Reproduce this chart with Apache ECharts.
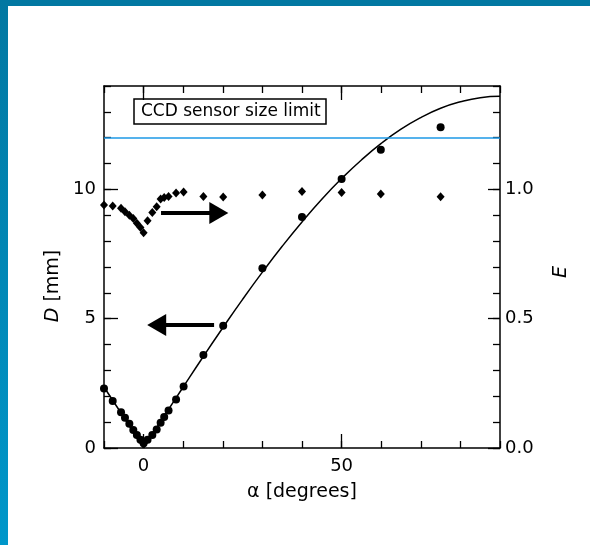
<!DOCTYPE html>
<html>
<head>
<meta charset="utf-8">
<script src="https://cdn.jsdelivr.net/npm/echarts@6/dist/echarts.min.js"></script>
<style>
  html, body { margin: 0; padding: 0; background: #ffffff; }
  #chart { width: 590px; height: 545px; }
</style>
</head>
<body>
<div id="chart"></div>
<script>
// Measured points: incidence angle, spot diameter D and efficiency E
const alphaDeg   = [-10, -7.8, -5.7, -4.7, -3.6, -2.6, -1.7, -0.8, 0, 1, 2.2, 3.3, 4.3, 5.2, 6.3, 8.2, 10.1, 15.1, 20.1, 30, 40, 50, 59.9, 75];
const diameterMm = [2.3, 1.82, 1.38, 1.17, 0.94, 0.7, 0.5, 0.32, 0.18, 0.32, 0.5, 0.72, 0.98, 1.2, 1.45, 1.88, 2.38, 3.6, 4.73, 6.95, 8.93, 10.4, 11.53, 12.4];
const efficiency = [0.94, 0.936, 0.927, 0.914, 0.90, 0.888, 0.869, 0.853, 0.832, 0.879, 0.911, 0.933, 0.963, 0.969, 0.973, 0.986, 0.99, 0.973, 0.971, 0.978, 0.992, 0.988, 0.982, 0.972];

// Model curve for D
const fitAlpha = [-10, -5, 0, 5, 10, 15, 20, 25, 30, 35, 40, 45, 50, 55, 60, 65, 70, 75, 80, 85, 90];
const fitD     = [2.36, 1.19, 0, 1.19, 2.36, 3.52, 4.65, 5.75, 6.8, 7.8, 8.74, 9.62, 10.42, 11.14, 11.78, 12.33, 12.78, 13.14, 13.39, 13.55, 13.6];

// Sensor limit and labelled ticks
const sensorLimitMm = 12;
const xTickLabels = [0, 50];
const dTickLabels = [0, 5, 10];
const eTickLabels = [0, 0.5, 1.0];

const FONT = 'DejaVu Sans';
const pairs = (xs, ys) => xs.map((x, i) => [x, ys[i]]);
const fitPts = pairs(fitAlpha, fitD);

const axisLine = { show: true, onZero: false, lineStyle: { color: '#000', width: 1.5 } };
const noLine = { show: false, onZero: false };
const minorTick = { show: true, inside: true, length: 7, lineStyle: { color: '#000', width: 1.3 } };
const majorTick = (vals, len) => ({ show: true, inside: true, length: len, customValues: vals, lineStyle: { color: '#000', width: 1.3 } });
const labelStyle = { color: '#000', fontFamily: FONT, fontSize: 18 };

const xBase = { type: 'value', min: -10, max: 90, interval: 10, splitLine: { show: false } };
const dBase = { type: 'value', min: 0, max: 14, interval: 1, splitLine: { show: false } };
const eBase = { type: 'value', min: 0, max: 1.4, interval: 0.1, splitLine: { show: false } };

const chart = echarts.init(document.getElementById('chart'), null, { renderer: 'canvas' });
chart.setOption({
  animation: false,
  backgroundColor: '#ffffff',
  graphic: [
    { type: 'rect', left: 0, top: 0, shape: { width: 590, height: 6 }, style: { fill: '#0278a2' }, silent: true },
    { type: 'rect', left: 0, top: 0, shape: { width: 8, height: 545 },
      style: { fill: new echarts.graphic.LinearGradient(0, 0, 0, 1, [
        { offset: 0, color: '#0278a2' }, { offset: 1, color: '#0097ca' }]) }, silent: true }
  ],
  title: {
    text: 'CCD sensor size limit',
    left: 134, top: 99,
    padding: [3, 6, 3, 7],
    borderColor: '#000', borderWidth: 1.5,
    textStyle: { fontFamily: FONT, fontSize: 17, fontWeight: 'normal', color: '#000', lineHeight: 19 }
  },
  grid: { left: 104, top: 86, width: 396, height: 362 },
  xAxis: [
    Object.assign({}, xBase, {
      position: 'bottom', axisLine: axisLine, axisTick: minorTick,
      axisLabel: Object.assign({ customValues: xTickLabels, margin: 9 }, labelStyle),
      name: 'α [degrees]', nameLocation: 'middle', nameGap: 35,
      nameTextStyle: { fontFamily: FONT, fontSize: 19, color: '#000' }
    }),
    Object.assign({}, xBase, { position: 'bottom', axisLine: noLine, axisTick: majorTick(xTickLabels, 14), axisLabel: { show: false } }),
    Object.assign({}, xBase, { position: 'top', axisLine: axisLine, axisTick: minorTick, axisLabel: { show: false } }),
    Object.assign({}, xBase, { position: 'top', axisLine: noLine, axisTick: majorTick(xTickLabels, 14), axisLabel: { show: false } })
  ],
  yAxis: [
    Object.assign({}, dBase, {
      position: 'left', axisLine: axisLine, axisTick: minorTick,
      axisLabel: Object.assign({ customValues: dTickLabels, margin: 8 }, labelStyle),
      name: '{i|D} [mm]', nameLocation: 'middle', nameGap: 40, nameRotate: 90,
      nameTextStyle: {
        fontFamily: FONT, fontSize: 19, color: '#000', padding: [0, 38, 0, 0],
        rich: { i: { fontFamily: FONT, fontSize: 19, fontStyle: 'italic', color: '#000' } }
      }
    }),
    Object.assign({}, dBase, { position: 'left', axisLine: noLine, axisTick: majorTick(dTickLabels, 14), axisLabel: { show: false } }),
    Object.assign({}, eBase, {
      position: 'right', axisLine: axisLine, axisTick: minorTick,
      axisLabel: Object.assign({ customValues: eTickLabels, margin: 5, formatter: v => v.toFixed(1) }, labelStyle),
      name: 'E', nameLocation: 'middle', nameGap: 52, nameRotate: 90,
      nameTextStyle: { fontFamily: FONT, fontSize: 19, fontStyle: 'italic', color: '#000', padding: [0, 10, 0, 0] }
    }),
    Object.assign({}, eBase, { position: 'right', axisLine: noLine, axisTick: majorTick(eTickLabels, 12), axisLabel: { show: false } })
  ],
  series: [
    {
      name: 'fit-neg', type: 'line', xAxisIndex: 0, yAxisIndex: 0,
      data: fitPts.filter(p => p[0] <= 0),
      showSymbol: false, lineStyle: { color: '#000', width: 1.5 }, silent: true, z: 2
    },
    {
      name: 'fit-pos', type: 'line', xAxisIndex: 0, yAxisIndex: 0,
      data: fitPts.filter(p => p[0] >= 0),
      smooth: true,
      showSymbol: false, lineStyle: { color: '#000', width: 1.5 }, silent: true, z: 2
    },
    {
      name: 'D', type: 'scatter', xAxisIndex: 0, yAxisIndex: 0,
      data: pairs(alphaDeg, diameterMm),
      symbol: 'circle', symbolSize: 8, itemStyle: { color: '#000', opacity: 1 }, z: 3,
      markLine: {
        silent: true, animation: false, label: { show: false },
        data: [
          [{ coord: [-10, sensorLimitMm], symbol: 'none' }, { coord: [90, sensorLimitMm], symbol: 'none' }],
          [{ coord: [17.8, 4.76], symbol: 'none', lineStyle: { color: '#000', width: 4, type: 'solid' } },
           { coord: [3.3, 4.76], symbol: 'triangle', symbolSize: [22, 19] }],
          [{ coord: [4.4, 9.09], symbol: 'none', lineStyle: { color: '#000', width: 4, type: 'solid' } },
           { coord: [19.0, 9.09], symbol: 'triangle', symbolSize: [22, 19] }]
        ],
        lineStyle: { color: '#1c98e6', width: 1.6, type: 'solid' },
        itemStyle: { color: '#000' }
      }
    },
    {
      name: 'E', type: 'scatter', xAxisIndex: 0, yAxisIndex: 2,
      data: pairs(alphaDeg, efficiency),
      symbol: 'diamond', symbolSize: [8, 9], itemStyle: { color: '#000', opacity: 1 }, z: 3
    }
  ]
});
</script>
</body>
</html>
